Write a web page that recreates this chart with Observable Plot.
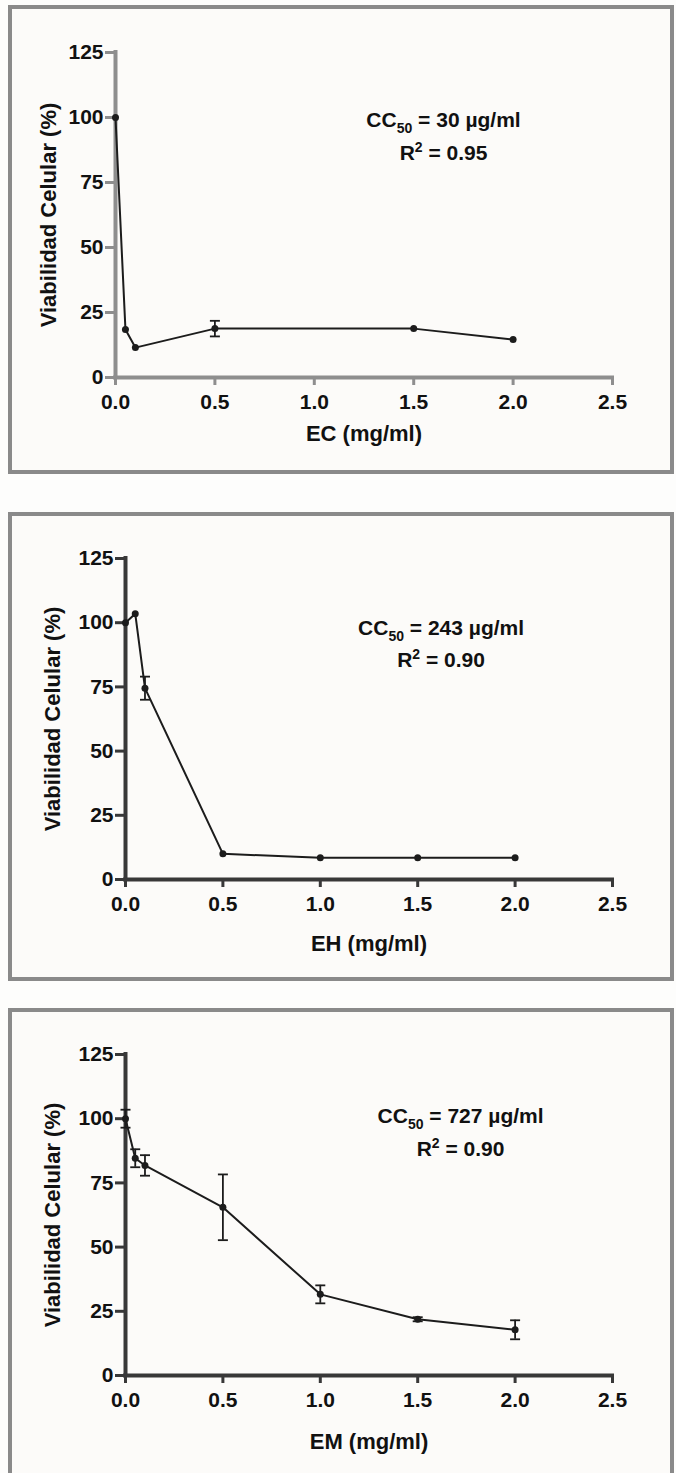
<!DOCTYPE html>
<html><head><meta charset="utf-8">
<script src="https://cdn.jsdelivr.net/npm/d3@7"></script>
<script src="https://cdn.jsdelivr.net/npm/@observablehq/plot@0.6"></script>
<style>
body{margin:0;background:#fdfdfc;}
#page{position:relative;width:676px;height:1473px;overflow:hidden;font-family:"Liberation Sans",Arial,sans-serif;}
.panel{position:absolute;box-sizing:border-box;border:4px solid #8a8a8a;background:#fcfbf9;}
.chart{position:absolute;left:0;}
</style></head><body><div id="page"></div>
<script>
// ---- data ----
const ecDose = [0, 0.05, 0.1, 0.5, 1.5, 2.0];
const ecViability = [100, 18.5, 11.5, 18.8, 18.8, 14.6];
const ecError = [0, 0, 0, 3, 0, 0];

const ehDose = [0, 0.05, 0.1, 0.5, 1.0, 1.5, 2.0];
const ehViability = [100, 103.5, 74.5, 10, 8.5, 8.5, 8.5];
const ehError = [0, 0, 4.5, 0, 0, 0, 0];

const emDose = [0, 0.05, 0.1, 0.5, 1.0, 1.5, 2.0];
const emViability = [100, 84.6, 81.8, 65.5, 31.6, 21.9, 17.8];
const emError = [3.5, 3.5, 4, 12.8, 3.5, 0.8, 3.7];

const xTicks = [0, 0.5, 1.0, 1.5, 2.0, 2.5];
const yTicks = [0, 25, 50, 75, 100, 125];
const xTitles = ["EC (mg/ml)", "EH (mg/ml)", "EM (mg/ml)"];
const yTitle = "Viabilidad Celular (%)";
const cc50Values = ["30", "243", "727"];
const r2Values = ["0.95", "0.90", "0.90"];

// ---- layout ----
const panels = [
  {dose: ecDose, viab: ecViability, err: ecError, svgTop: 0, boxTop: 5, boxH: 469, mt: 52, mb: 93, ml: 115, titleDy: 63, annX: 1.65, annY: [98.8, 86.2], axis: "#8e8e8e", yTitleX: 48},
  {dose: ehDose, viab: ehViability, err: ehError, svgTop: 500, boxTop: 512, boxH: 469, mt: 58, mb: 91, ml: 125, titleDy: 71, annX: 1.62, annY: [97.7, 85.3], axis: "#383838", yTitleX: 52},
  {dose: emDose, viab: emViability, err: emError, svgTop: 1000, boxTop: 1008, boxH: 520, mt: 54, mb: 95, ml: 125, titleDy: 73, annX: 1.72, annY: [100.9, 88], axis: "#383838", yTitleX: 52}
];

const capSymbol = {
  draw(context, size) {
    const w = Math.sqrt(size / Math.PI);
    context.moveTo(-w, 0);
    context.lineTo(w, 0);
  }
};

const page = document.getElementById("page");
const ink = "#1c1c1c";
const fontFamily = '"Liberation Sans", Arial, sans-serif';

panels.forEach((p, i) => {
  const box = document.createElement("div");
  box.className = "panel";
  box.style.left = "8px";
  box.style.top = p.boxTop + "px";
  box.style.width = "666px";
  box.style.height = p.boxH + "px";
  page.appendChild(box);

  const rows = p.dose.map((d, k) => ({dose: d, v: p.viab[k], e: p.err[k]}));
  const withErr = rows.filter(r => r.e > 0);
  const notes = [
    {x: p.annX, y: p.annY[0], t: "CC50 = " + cc50Values[i] + " µg/ml"},
    {x: p.annX, y: p.annY[1], t: "R2 = " + r2Values[i]}
  ];

  const svg = Plot.plot({
    width: 676,
    height: 470,
    marginLeft: p.ml,
    marginRight: 64,
    marginTop: p.mt,
    marginBottom: p.mb,
    style: {background: "transparent", fontFamily, fontSize: "21px", fontWeight: "bold", color: "#111"},
    x: {domain: [0, 2.5]},
    y: {domain: [0, 125]},
    marks: [
      Plot.axisX({ticks: xTicks, tickFormat: d3.format(".1f"), tickSize: 8, tickPadding: 9, stroke: p.axis, strokeWidth: 3, fill: "#111", fontSize: 21, fontWeight: "bold", label: null}),
      Plot.axisY({ticks: yTicks, tickSize: 10, tickPadding: 2, stroke: p.axis, strokeWidth: 3, fill: "#111", fontSize: 21, fontWeight: "bold", label: null}),
      Plot.ruleY([0], {stroke: p.axis, strokeWidth: 4, strokeLinecap: "square"}),
      Plot.ruleX([0], {stroke: p.axis, strokeWidth: 4, strokeLinecap: "square"}),
      Plot.text([xTitles[i]], {frameAnchor: "bottom", dy: p.titleDy, fontSize: 22, fontWeight: "bold", fill: "#111"}),
      Plot.text([yTitle], {frameAnchor: "left", textAnchor: "middle", rotate: -90, dx: p.yTitleX - p.ml, fontSize: 22, fontWeight: "bold", fill: "#111"}),
      Plot.ruleX(withErr, {x: "dose", y1: r => r.v - r.e, y2: r => r.v + r.e, stroke: ink, strokeWidth: 1.8}),
      Plot.dot(withErr, {x: "dose", y: r => r.v + r.e, symbol: capSymbol, r: 5, stroke: ink, strokeWidth: 1.8, fill: "none"}),
      Plot.dot(withErr, {x: "dose", y: r => r.v - r.e, symbol: capSymbol, r: 5, stroke: ink, strokeWidth: 1.8, fill: "none"}),
      Plot.line(rows, {x: "dose", y: "v", stroke: ink, strokeWidth: 2}),
      Plot.dot(rows, {x: "dose", y: "v", r: 3.5, fill: ink, stroke: "none"}),
      Plot.text(notes, {x: "x", y: "y", text: "t", fontSize: 21, fontWeight: "bold", fill: "#111", textAnchor: "middle"})
    ]
  });

  // sub- and superscripts in the annotations
  d3.select(svg).selectAll("text").each(function() {
    const s = this.textContent;
    const t = d3.select(this);
    let m;
    if ((m = s.match(/^CC50(.*)$/))) {
      t.text(null);
      t.append("tspan").text("CC");
      t.append("tspan").attr("font-size", "14px").attr("dy", 6).text("50");
      t.append("tspan").attr("dy", -6).text(m[1]);
    } else if ((m = s.match(/^R2( = .*)$/))) {
      t.text(null);
      t.append("tspan").text("R");
      t.append("tspan").attr("font-size", "14px").attr("dy", -8).text("2");
      t.append("tspan").attr("dy", 8).text(m[1]);
    }
  });

  svg.classList.add("chart");
  svg.style.top = p.svgTop + "px";
  svg.style.position = "absolute";
  page.appendChild(svg);
});
</script>
</body></html>
